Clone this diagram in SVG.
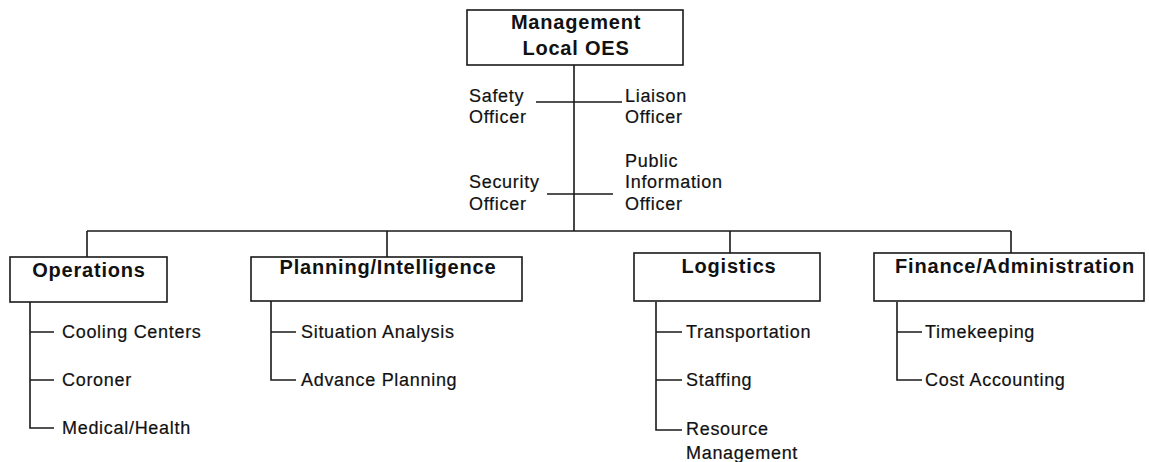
<svg xmlns="http://www.w3.org/2000/svg" width="1149" height="462" viewBox="0 0 1149 462">
<style>
.box{fill:#fff;stroke:#1a1a1a;stroke-width:1.6}
.ln{fill:none;stroke:#1a1a1a;stroke-width:1.6}
.t{font-family:"Liberation Sans",Arial,sans-serif;font-size:18px;letter-spacing:0.7px;fill:#111;stroke:#111;stroke-width:0.2}
.b{font-family:"Liberation Sans",Arial,sans-serif;font-size:20px;font-weight:bold;letter-spacing:0.8px;fill:#111;text-anchor:middle}
</style>
<rect width="1149" height="462" fill="#fff"/>
<g id="connectors">
<path class="ln" d="M574 65V231M87 231H1011M87 231V257M387 231V257M730 231V253M1011 231V253"/>
<path class="ln" d="M536 102H622M547 194H613"/>
<path class="ln" d="M30 302V428H54M30 332H54M30 380H54"/>
<path class="ln" d="M271 301V380H296M271 332H296"/>
<path class="ln" d="M656 302V430H682M656 332H682M656 380H682"/>
<path class="ln" d="M897 302V380H922M897 332H922"/>
</g>
<g id="management">
<rect class="box" x="467" y="10" width="216" height="55"/>
<text class="b" x="576" y="29">Management</text>
<text class="b" x="576" y="55">Local OES</text>
</g>
<g id="safety-officer"><text class="t" x="469" y="102">Safety</text><text class="t" x="469" y="123">Officer</text></g>
<g id="liaison-officer"><text class="t" x="625" y="102">Liaison</text><text class="t" x="625" y="123">Officer</text></g>
<g id="security-officer"><text class="t" x="469" y="188">Security</text><text class="t" x="469" y="210">Officer</text></g>
<g id="public-information-officer"><text class="t" x="625" y="167">Public</text><text class="t" x="625" y="188">Information</text><text class="t" x="625" y="210">Officer</text></g>
<g id="operations">
<rect class="box" x="10" y="257" width="157" height="45"/>
<text class="b" x="89" y="277">Operations</text>
</g>
<g id="cooling-centers"><text class="t" x="62" y="338">Cooling Centers</text></g>
<g id="coroner"><text class="t" x="62" y="386">Coroner</text></g>
<g id="medical-health"><text class="t" x="62" y="434">Medical/Health</text></g>
<g id="planning">
<rect class="box" x="251" y="257" width="271" height="44"/>
<text class="b" x="388" y="274">Planning/Intelligence</text>
</g>
<g id="situation-analysis"><text class="t" x="301" y="338">Situation Analysis</text></g>
<g id="advance-planning"><text class="t" x="301" y="386">Advance Planning</text></g>
<g id="logistics">
<rect class="box" x="634" y="253" width="186" height="48"/>
<text class="b" x="729" y="273">Logistics</text>
</g>
<g id="transportation"><text class="t" x="686" y="338">Transportation</text></g>
<g id="staffing"><text class="t" x="686" y="386">Staffing</text></g>
<g id="resource-management"><text class="t" x="686" y="435">Resource</text><text class="t" x="686" y="459">Management</text></g>
<g id="finance">
<rect class="box" x="874" y="253" width="270" height="48"/>
<text class="b" x="1015" y="273">Finance/Administration</text>
</g>
<g id="timekeeping"><text class="t" x="925" y="338">Timekeeping</text></g>
<g id="cost-accounting"><text class="t" x="925" y="386">Cost Accounting</text></g>
</svg>
